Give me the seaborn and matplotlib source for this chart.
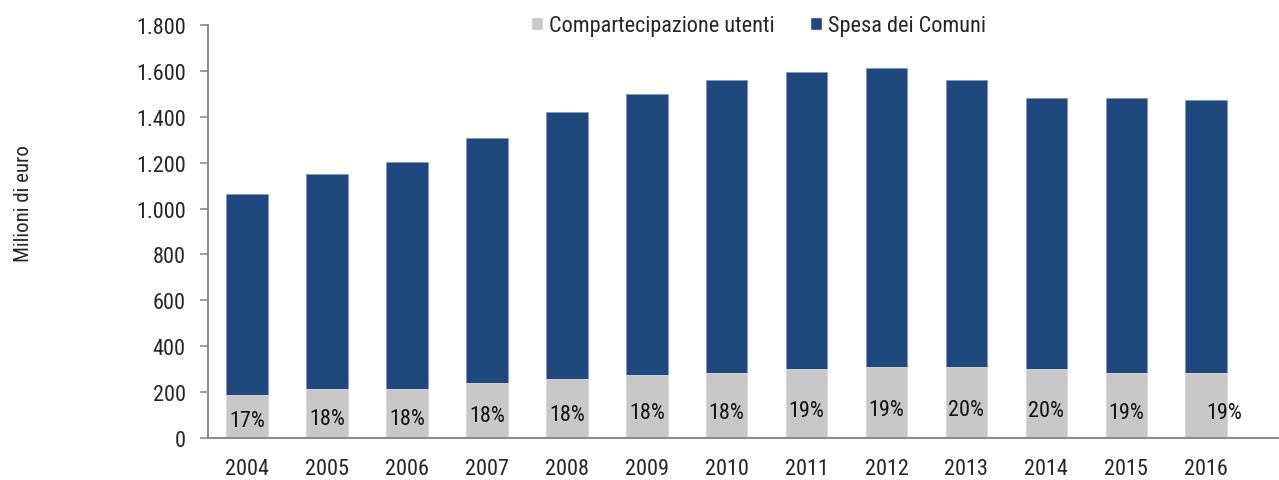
import numpy as np
import pandas as pd
import matplotlib
matplotlib.use('Agg')
import matplotlib.pyplot as plt
import matplotlib.ticker as mticker
from matplotlib.patches import Patch
import seaborn as sns

# data (milioni di euro)
years = ['2004', '2005', '2006', '2007', '2008', '2009', '2010',
         '2011', '2012', '2013', '2014', '2015', '2016']
totale = [1063, 1150, 1203, 1307, 1420, 1499, 1560,
          1595, 1612, 1560, 1481, 1481, 1473]
utenti = [187, 214, 214, 240, 257, 275, 283,
          301, 309, 309, 301, 283, 283]
pct_labels = ['17%', '18%', '18%', '18%', '18%', '18%', '18%',
              '19%', '19%', '20%', '20%', '19%', '19%']

BLUE = '#1F497D'
GREY = '#C8C8C8'

sns.set_style('white')
plt.rcParams['font.family'] = ['Liberation Sans Narrow', 'Roboto Condensed', 'Liberation Sans', 'DejaVu Sans']

df = pd.DataFrame({'anno': years, 'totale': totale, 'utenti': utenti})

fig = plt.figure(figsize=(12.79, 4.81), dpi=100)
ax = fig.add_axes([0.1626, 0.0873, 0.8374, 0.8587])

# stacked look: total in blue, users' share in grey drawn over it
sns.barplot(data=df, x='anno', y='totale', color=BLUE, width=0.52,
            edgecolor='#7F9BBF', linewidth=0.6, saturation=1, ax=ax)
sns.barplot(data=df, x='anno', y='utenti', color=GREY, width=0.52,
            edgecolor='#E0E0E0', linewidth=0.6, saturation=1, ax=ax)

for i, (u, lab) in enumerate(zip(utenti, pct_labels)):
    if i == len(years) - 1:
        ax.text(i + 0.22, u * 0.40, lab, ha='center', va='center', fontsize=16, color='#111111')
    else:
        ax.text(i, u * 0.40, lab, ha='center', va='center', fontsize=16, color='#111111')

ax.set_ylim(0, 1800)
ax.set_xlim(-0.49, 12.91)
ax.yaxis.set_major_locator(mticker.MultipleLocator(200))
ax.yaxis.set_major_formatter(mticker.FuncFormatter(lambda v, p: f'{int(v):,}'.replace(',', '.')))

ax.set_xlabel('')
ax.set_ylabel('')
fig.text(0.018, 0.576, 'Milioni di euro', rotation=90, ha='center', va='center', fontsize=15)

for s in ['top', 'right']:
    ax.spines[s].set_visible(False)
for s in ['left', 'bottom']:
    ax.spines[s].set_color('#8C8C8C')
    ax.spines[s].set_linewidth(1.5)

ax.tick_params(axis='y', which='major', left=True, length=6, width=1.2, color='#8C8C8C',
               labelsize=16, pad=10)
ax.tick_params(axis='x', bottom=False, labelsize=16, pad=11)

handles = [Patch(facecolor=GREY, label='Compartecipazione utenti'),
           Patch(facecolor=BLUE, label='Spesa dei Comuni')]
fig.legend(handles=handles, loc='center', bbox_to_anchor=(0.593, 0.944), ncol=2,
           frameon=False, fontsize=16, handlelength=0.55, handleheight=0.55,
           handletextpad=0.25, columnspacing=1.6)

fig.savefig('out.png', dpi=100)
